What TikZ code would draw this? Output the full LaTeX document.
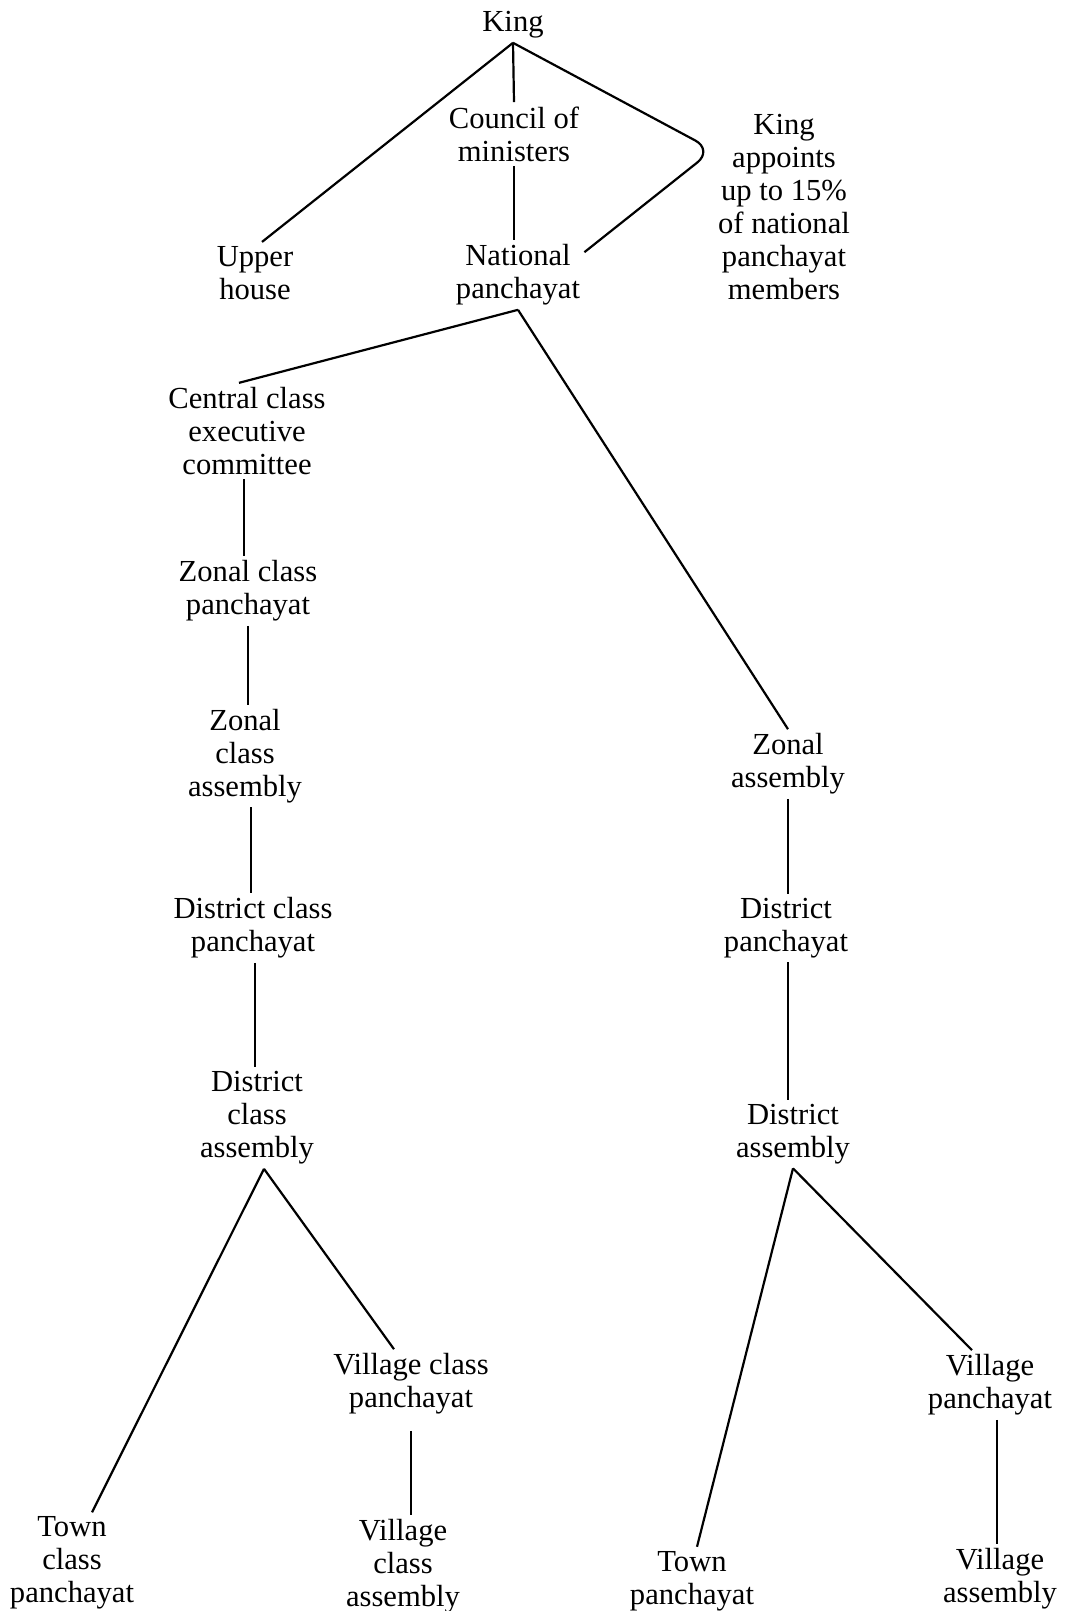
\documentclass[tikz,border=0pt]{standalone}
\usepackage{fontspec}
\setmainfont{Liberation Serif}
\usepackage{tikz}
\tikzset{
    body/.style = {align=center, inner sep=2pt, font=\fontsize{15.3}{16.5}\selectfont},
    tie/.style = {line width=1.1pt, black}
}

\begin{document}
\begin{tikzpicture}[x=0.5pt, y=-0.5pt]
	\useasboundingbox (0,0) rectangle (1070,1611);

	\node[body] (king) at (513, 25) {King};
	\node[body] (council) at (514, 134) {Council of\\ministers};
	\node[body] (upper) at (255, 273) {Upper\\house};
	\node[body] (national) at (518, 275) {National\\panchayat};
	\node[body] (note) at (784, 207) {King\\appoints\\up to 15\%\\of national\\panchayat\\members};

	\node[body] (central) at (247, 431) {Central class\\executive\\committee};
	\node[body] (zcp) at (248, 591) {Zonal class\\panchayat};
	\node[body] (zca) at (245, 756) {Zonal\\class\\assembly};
	\node[body] (dcp) at (253, 928) {District class\\panchayat};
	\node[body] (dca) at (257, 1118) {District\\class\\assembly};
	\node[body] (vcp) at (411, 1384) {Village class\\panchayat};
	\node[body] (tcp) at (72, 1563) {Town\\class\\panchayat};
	\node[body] (vca) at (403, 1566) {Village\\class\\assembly};

	\node[body] (za) at (788, 764) {Zonal\\assembly};
	\node[body] (dp) at (786, 928) {District\\panchayat};
	\node[body] (da) at (793, 1134) {District\\assembly};
	\node[body] (vp) at (990, 1385) {Village\\panchayat};
	\node[body] (tp) at (692, 1581) {Town\\panchayat};
	\node[body] (va) at (1000, 1579) {Village\\assembly};

	\coordinate (bend) at (713, 150);

	% top of the chart
	\draw[tie] (king.south) -- ([xshift=3.5pt]upper.north);
	\draw[tie] (king.south) -- (council.north);
	\draw[tie, rounded corners=10pt] (king.south) -- (bend) -- ([yshift=-6pt]national.north east);
	\draw[tie] (council.south) -- (council.south |- national.north);

	% class organisations
	\draw[tie] (national.south) -- ([xshift=-4pt]central.north);
	\draw[tie] ([xshift=-1.5pt]central.south) -- ([xshift=-1.5pt]central.south |- zcp.north);
	\draw[tie] (zcp.south) -- (zcp.south |- zca.north);
	\draw[tie] ([xshift=3pt]zca.south) -- ([xshift=3pt]zca.south |- dcp.north);
	\draw[tie] ([xshift=1pt]dcp.south) -- ([xshift=1pt]dcp.south |- dca.north);
	\draw[tie] ([xshift=3.5pt]dca.south) -- ([xshift=10pt]tcp.north);
	\draw[tie] ([xshift=3.5pt]dca.south) -- ([xshift=-8.5pt]vcp.north);
	\draw[tie, shorten <=6pt] (vcp.south) -- (vcp.south |- vca.north);

	% panchayat side
	\draw[tie] (national.south) -- (za.north);
	\draw[tie] (za.south) -- (za.south |- dp.north);
	\draw[tie] ([xshift=1pt]dp.south) -- ([xshift=1pt]dp.south |- da.north);
	\draw[tie] (da.south) -- ([xshift=2.5pt]tp.north);
	\draw[tie] (da.south) -- ([xshift=-9pt]vp.north);
	\draw[tie] ([xshift=3.5pt]vp.south) -- ([xshift=3.5pt]vp.south |- va.north);
\end{tikzpicture}
\end{document}
